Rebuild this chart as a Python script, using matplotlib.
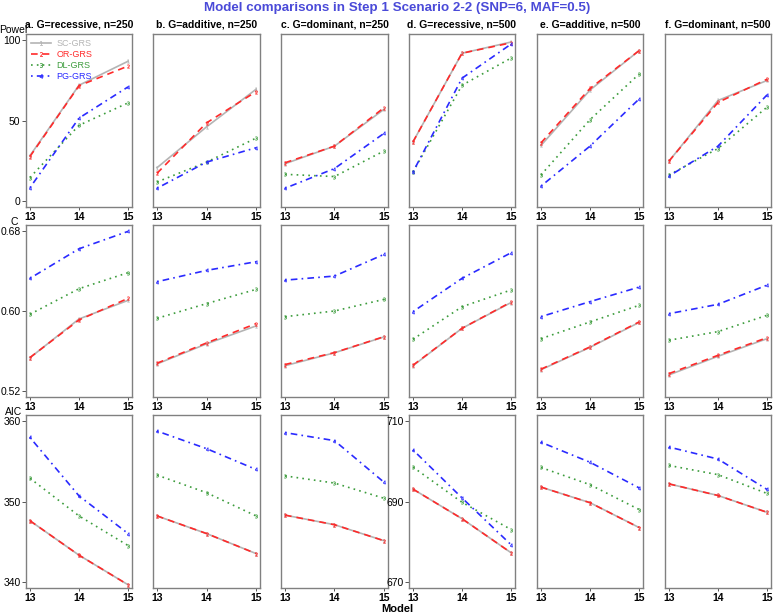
import matplotlib
matplotlib.use("Agg")
import matplotlib.pyplot as plt
import numpy as np

plt.rcParams['font.family'] = ['Liberation Sans', 'DejaVu Sans']

models = [13, 14, 15]
series = ["SC-GRS", "OR-GRS", "DL-GRS", "PG-GRS"]
panel_titles = ["a. G=recessive, n=250", "b. G=additive, n=250", "c. G=dominant, n=250",
                "d. G=recessive, n=500", "e. G=additive, n=500", "f. G=dominant, n=500"]
row_labels = ["Power", "C", "AIC"]

# Power (%) per panel: [SC, OR, DL, PG] x models 13,14,15
power = [
    [[28, 72, 87], [27.5, 71.7, 84], [14.4, 47, 61], [8, 51.5, 71]],
    [[20.5, 46, 69.5], [17, 48.5, 68], [11.6, 24, 39], [7.7, 24, 33]],
    [[23, 34, 57], [23.6, 34, 58], [16.4, 15, 31], [7.7, 20, 42]],
    [[36.6, 92, 99], [36.6, 92, 98.5], [17.8, 72, 89], [17.8, 76.4, 97.7]],
    [[34.4, 69, 93.6], [36, 70, 93.6], [16, 50.5, 79], [9, 34, 63.4]],
    [[24.6, 62.5, 75], [24.6, 61.3, 75.8], [16, 32.5, 58.4], [15.3, 34, 66]],
]
cstat = [
    [[0.553, 0.592, 0.6107], [0.5532, 0.591, 0.6127], [0.5967, 0.6224, 0.6385], [0.6328, 0.6625, 0.680]],
    [[0.5468, 0.5670, 0.585], [0.5475, 0.5679, 0.5873], [0.5926, 0.6074, 0.6217], [0.6294, 0.6408, 0.6495]],
    [[0.545, 0.558, 0.574], [0.5462, 0.5582, 0.5742], [0.5943, 0.600, 0.6117], [0.631, 0.6351, 0.6569]],
    [[0.5450, 0.5826, 0.6085], [0.5455, 0.5826, 0.609], [0.5716, 0.6043, 0.6211], [0.5993, 0.6328, 0.6585]],
    [[0.541, 0.5635, 0.5885], [0.5415, 0.5639, 0.589], [0.5722, 0.589, 0.6057], [0.5943, 0.6094, 0.624]],
    [[0.5358, 0.5545, 0.5722], [0.5371, 0.5555, 0.5732], [0.5706, 0.5793, 0.5957], [0.5973, 0.6067, 0.626]],
]
aic = [
    [[347.6, 343.3, 339.6], [347.6, 343.3, 339.6], [352.9, 348.2, 344.5], [358.0, 350.7, 346.0]],
    [[348.2, 346.0, 343.5], [348.2, 346.0, 343.5], [353.3, 351.1, 348.2], [358.8, 356.6, 354.0]],
    [[348.3, 347.1, 345.1], [348.3, 347.1, 345.1], [353.2, 352.3, 350.4], [358.6, 357.6, 352.4]],
    [[693.1, 685.7, 677.2], [693.1, 685.7, 677.2], [698.6, 689.8, 683.0], [702.9, 690.9, 679.2]],
    [[693.6, 689.7, 683.5], [693.6, 689.7, 683.5], [698.5, 694.2, 688.0], [704.8, 699.8, 693.4]],
    [[694.4, 691.5, 687.3], [694.4, 691.5, 687.3], [699.0, 696.7, 692.0], [703.6, 700.6, 693.0]],
]
power_ticks = [0, 50, 100]
c_ticks = [0.52, 0.60, 0.68]
c_ticklabels = ["0.52", "0.60", "0.68"]
aic_ticks_250 = [340, 350, 360]
aic_ticks_500 = [670, 690, 710]

colors = ["#b4b4b4", "#ff2a2a", "#3c9c3c", "#2a2aff"]
styles = ["-", (0, (4, 3)), (0, (1, 2.5)), (0, (1, 2.5, 4, 2.5))]
markers = ["$1$", "$2$", "$3$", "$4$"]

W, H = 774, 615
fig = plt.figure(figsize=(W / 100, H / 100), dpi=100)

col_x = [(26, 132), (153, 260), (281, 388), (409, 515), (537, 643), (665, 771)]
row_y = [(34, 207), (225, 397), (415, 588)]

def expand(lo, hi):
    d = (hi - lo) * 0.04
    return lo - d, hi + d

for r in range(3):
    for c in range(6):
        x0, x1 = col_x[c]
        y0, y1 = row_y[r]
        ax = fig.add_axes([x0 / W, 1 - y1 / H, (x1 - x0) / W, (y1 - y0) / H])
        data = [power, cstat, aic][r][c]
        for s in range(4):
            ax.plot(models, data[s], color=colors[s], linestyle=styles[s], lw=1.2,
                    marker=markers[s], markersize=2.6, markeredgewidth=0.2,
                    label=series[s])
        ax.set_xlim(*expand(13, 15))
        ax.set_xticks(models)
        ax.set_xticklabels([str(m) for m in models], fontweight='bold', fontsize=7.5)
        if r == 0:
            ax.set_ylim(*expand(0, 100))
            ax.set_yticks(power_ticks)
            ax.set_yticklabels([str(t) for t in power_ticks])
        elif r == 1:
            ax.set_ylim(*expand(0.52, 0.68))
            ax.set_yticks(c_ticks)
            ax.set_yticklabels(c_ticklabels)
        else:
            tk = aic_ticks_250 if c < 3 else aic_ticks_500
            ax.set_ylim(*expand(tk[0], tk[-1]))
            ax.set_yticks(tk)
            ax.set_yticklabels([str(t) for t in tk])
        show_y = (c == 0) or (r == 2 and c == 3)
        if not show_y:
            ax.tick_params(axis='y', left=False, labelleft=False)
        ax.tick_params(axis='y', labelsize=7.5, length=3, width=0.7, color='#555555', pad=1)
        ax.tick_params(axis='x', length=2.5, width=0.7, color='#555555', pad=1)
        for sp in ax.spines.values():
            sp.set_color('#808080')
            sp.set_linewidth(1.0)
        if r == 0:
            ax.set_title(panel_titles[c], fontsize=7.5, fontweight='bold', pad=5)
        if r == 0 and c == 0:
            leg = ax.legend(loc='upper left', frameon=False, fontsize=6.5, handlelength=2.2,
                            handletextpad=0.6, labelspacing=0.2, borderaxespad=0.2,
                            labelcolor='linecolor', markerscale=1.2)

for r, lab in enumerate(row_labels):
    ytxt = [30, 222, 412][r]
    fig.text(14 / W, 1 - ytxt / H, lab, ha='center', va='center', fontsize=7.5)

fig.text(397 / W, 1 - 8 / H, "Model comparisons in Step 1 Scenario 2-2 (SNP=6, MAF=0.5)",
         ha='center', va='center', fontsize=9.6, fontweight='bold', color='#4a4ad8')
fig.text(397 / W, 1 - 609.5 / H, "Model", ha='center', va='center', fontsize=8, fontweight='bold')

fig.savefig("out.png", dpi=100)
